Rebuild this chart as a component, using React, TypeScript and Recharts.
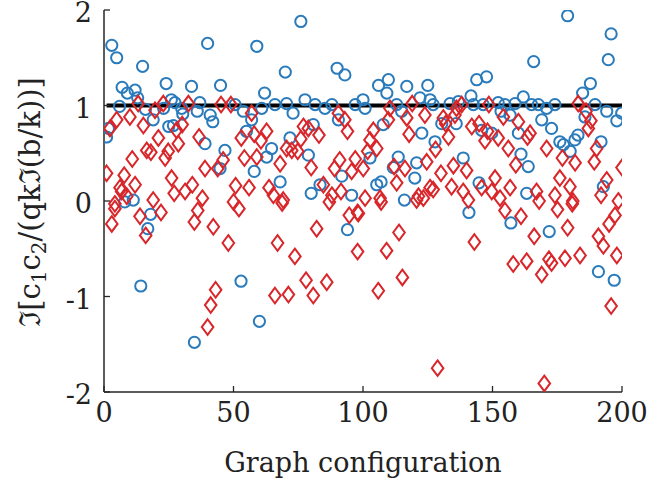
import React from "react";
import { ScatterChart, Scatter, XAxis, YAxis, ReferenceLine } from "recharts";

if (typeof document !== "undefined") {
  document.body.style.margin = "0";
}

const xTicks = [0, 50, 100, 150, 200];
const yTicks = [-2, -1, 0, 1, 2];
const referenceLevel = 1;
const referenceRange = [1, 200];

const blueX = [
  3, 4.9, 14.9, 40, 24, 33.8, 45, 7, 9, 12, 13, 26, 27.4, 37, 6, 16, 23, 30, 36, 19, 41, 42, 25, 26.8, 30.4, 39, 1, 1.7, 46.7, 44.8, 11.3, 8, 18, 16.9, 14.2, 34.9,
  76, 59, 70, 90, 93, 62, 50.6, 53.8, 60.9, 66, 70.5, 73, 77.6, 81.5, 85.3, 88, 97, 57, 90.5, 80.8, 55, 64.7, 71.8, 62.8, 78.9, 58, 68, 91.8, 80, 83.4, 95.6, 94, 52.9, 60,
  106, 109.8, 109.2, 116.9, 125, 143.9, 147.7, 141.7, 100, 100.8, 113, 114.9, 122, 125.9, 127.1, 133.6, 136.8, 142.6, 146.4, 107.8, 130.4, 136, 122.7, 127.8, 145.8, 102.7, 113.6, 120.7, 111.7, 138.7, 120, 105.3, 107, 144.8, 116, 140.9,
  179, 195.8, 194.7, 165.9, 187.8, 184.8, 161.9, 152.2, 154.8, 158.7, 165.1, 167.7, 170.9, 174.1, 189.6, 194.1, 199.9, 198, 153.3, 156.8, 185.7, 169, 172.8, 160, 149.7, 176, 177.4, 180, 181.8, 183, 191.9, 161, 163.8, 192.8, 163.2, 157.1, 171.9, 190.9, 197,
];
const blueY = [
  1.63, 1.5, 1.41, 1.65, 1.23, 1.2, 1.21, 1.19, 1.13, 1.16, 1.08, 1.06, 1.03, 1.03, 0.99, 0.96, 0.97, 0.97, 0.94, 0.85, 0.9, 0.83, 0.78, 0.79, 0.91, 0.6, 0.67, 0.76, 0.53, 0.34, 0.01, -0.01, -0.14, -0.29, -0.89, -1.48,
  1.88, 1.62, 1.35, 1.39, 1.32, 1.13, 1.01, 0.94, 0.97, 1.01, 1.02, 0.92, 1.06, 1.01, 0.97, 1.01, 1.01, 0.85, 0.85, 0.8, 0.73, 0.55, 0.66, 0.46, 0.48, 0.31, 0.2, 0.26, 0.08, 0.17, 0.06, -0.3, -0.84, -1.26,
  1.21, 1.27, 1.13, 1.2, 1.21, 1.27, 1.3, 1.1, 1.06, 0.97, 1.01, 0.94, 1.08, 1.06, 1.01, 1.02, 1.04, 1.01, 1.01, 0.8, 0.81, 0.81, 0.71, 0.62, 0.74, 0.45, 0.46, 0.4, 0.35, 0.45, 0.24, 0.17, 0.2, 0.19, 0.01, -0.12,
  1.94, 1.75, 1.48, 1.46, 1.23, 1.13, 1.09, 1.03, 1.01, 1.02, 1.01, 1.01, 0.97, 1.01, 1.01, 0.94, 0.92, 0.84, 0.94, 0.9, 0.88, 0.85, 0.76, 0.71, 0.71, 0.62, 0.59, 0.52, 0.64, 0.69, 0.62, 0.49, 0.36, 0.15, 0.08, -0.23, -0.32, -0.74, -0.83,
];

const redX = [
  13.2, 19.7, 22.9, 32.6, 45.2, 4.9, 2.3, 10, 15.2, 28, 30.2, 21, 36.7, 28.7, 16.5, 18.1, 24.8, 23.6, 10.9, 1, 7.8, 12, 26.1, 39, 43.9, 46, 6.2, 6.8, 8.8, 27.1, 31.3, 34.1, 38, 19, 4.2, 4.2, 3, 13.9, 16.1, 22, 36.2, 34.9, 42.2, 48, 43.1, 41.2, 40,
  49, 57, 90.5, 93, 94, 53, 58, 62.8, 60.6, 77, 78.9, 83, 76, 70.5, 72.5, 74.8, 59, 54.2, 68, 80, 91, 89, 97, 95.6, 50.8, 56, 63.7, 65.4, 69.2, 84.7, 88, 91.5, 50, 52.1, 68.8, 87, 94.7, 97.9, 82.1, 67, 73.7, 97.9, 78, 86, 66, 71.2, 80.8,
  110.4, 119, 123.9, 116.9, 109.8, 135.5, 138.1, 131, 131.9, 136.1, 104, 102.7, 101.8, 105.3, 117.8, 133, 128, 142, 144.8, 147.1, 124.6, 130.1, 134.9, 140, 112, 116.2, 113, 100.1, 125.9, 127.1, 134.2, 138.7, 145.8, 100.8, 106.6, 121.4, 123.3, 140.7, 107, 98.2, 120.7, 113.9, 109.1, 143, 115.2, 105.9, 128.8,
  148.6, 154.2, 160, 148.1, 152.2, 156.1, 164.5, 163.5, 170.9, 177, 181.9, 159, 183.1, 186.1, 188, 187, 190.2, 189.3, 200, 151, 156.8, 149.7, 152.9, 176, 179.9, 167, 174.1, 181, 168, 194.1, 191.9, 198.6, 154.8, 161, 175.1, 180.8, 197.3, 195, 190.9, 192.8, 198, 195.8, 166.1, 179, 158, 163.2, 171.8, 172.8, 169, 178, 183.8, 170,
];
const redY = [
  1.02, 0.95, 1.02, 1.02, 1.01, 0.85, 0.76, 0.88, 0.79, 0.74, 0.8, 0.66, 0.67, 0.6, 0.53, 0.51, 0.52, 0.45, 0.44, 0.29, 0.27, 0.17, 0.24, 0.34, 0.34, 0.43, 0.14, 0.1, 0.05, 0.08, 0.1, 0.17, 0.03, 0.01, -0.03, -0.08, -0.24, -0.16, -0.36, -0.12, -0.1, -0.22, -0.27, -0.44, -0.93, -1.09, -1.32,
  1.01, 0.92, 0.92, 0.85, 0.73, 0.66, 0.7, 0.73, 0.63, 0.78, 0.76, 0.69, 0.65, 0.55, 0.53, 0.52, 0.46, 0.45, 0.39, 0.35, 0.43, 0.34, 0.44, 0.31, 0.16, 0.14, 0.14, 0.06, 0.01, 0.17, 0.06, 0.1, -0.01, -0.08, -0.02, -0.01, -0.15, -0.12, -0.29, -0.44, -0.58, -0.53, -0.83, -0.85, -0.99, -0.98, -0.99,
  0.97, 1.02, 0.9, 0.87, 0.85, 0.9, 1.01, 0.87, 0.81, 0.97, 0.74, 0.64, 0.52, 0.55, 0.7, 0.67, 0.54, 0.78, 0.81, 0.63, 0.41, 0.29, 0.37, 0.32, 0.36, 0.34, 0.19, 0.34, 0.14, 0.12, 0.15, 0.1, 0.14, 0.03, 0.03, 0.05, 0.03, 0.01, -0.01, -0.13, 0.01, -0.33, -0.52, -0.43, -0.8, -0.94, -1.75,
  1.01, 0.88, 0.83, 0.73, 0.66, 0.55, 0.71, 0.67, 0.55, 0.45, 0.4, 0.38, 1.02, 0.94, 0.84, 0.76, 0.55, 0.41, 0.35, 0.24, 0.14, 0.1, 0.03, 0.24, 0.15, 0.1, 0.06, 0.0, 0.0, 0.22, 0.06, 0.0, -0.1, -0.16, -0.09, -0.03, -0.15, -0.24, -0.37, -0.47, -0.57, -1.1, -0.37, -0.28, -0.66, -0.63, -0.61, -0.65, -0.77, -0.6, -0.57, -1.91,
];

const blueData = blueX.map((x, i) => ({ x, y: blueY[i] }));
const redData = redX.map((x, i) => ({ x, y: redY[i] }));

const BLUE = "#2a7bbb";
const RED = "#d9262a";
const AXIS = "#262626";
const FONT = "DejaVu Serif";
const FS = 27;
const TICK_LEN = 6;

const CircleShape = (props: any) => {
  const { cx, cy } = props;
  if (cx == null || cy == null) return null;
  return <circle cx={cx} cy={cy} r={5.6} fill="none" stroke={BLUE} strokeWidth={2} />;
};

const DiamondShape = (props: any) => {
  const { cx, cy } = props;
  if (cx == null || cy == null) return null;
  const w = 5.8;
  const h = 7.8;
  return (
    <path
      d={`M${cx},${cy - h} L${cx + w},${cy} L${cx},${cy + h} L${cx - w},${cy} Z`}
      fill="none"
      stroke={RED}
      strokeWidth={2}
      strokeLinejoin="miter"
    />
  );
};

const BottomTick = (props: any) => {
  const { x, y, payload } = props;
  return (
    <g>
      <line x1={x} x2={x} y1={y} y2={y - TICK_LEN} stroke={AXIS} strokeWidth={1.3} />
      <text x={x} y={y + 30} textAnchor="middle" fontFamily={FONT} fontSize={FS} fill="#222">
        {payload.value}
      </text>
    </g>
  );
};

const TopTick = (props: any) => {
  const { x, y } = props;
  return <line x1={x} x2={x} y1={y} y2={y + TICK_LEN} stroke={AXIS} strokeWidth={1.3} />;
};

const LeftTick = (props: any) => {
  const { x, y, payload } = props;
  return (
    <g>
      <line x1={x} x2={x + TICK_LEN} y1={y} y2={y} stroke={AXIS} strokeWidth={1.3} />
      <text x={x - 12} y={y + 12} textAnchor="end" fontFamily={FONT} fontSize={FS} fill="#222">
        {payload.value}
      </text>
    </g>
  );
};

const RightTick = (props: any) => {
  const { x, y } = props;
  return <line x1={x} x2={x - TICK_LEN} y1={y} y2={y} stroke={AXIS} strokeWidth={1.3} />;
};

const YLabel = (props: any) => {
  const vb = props.viewBox || { x: 0, y: 0, width: 0, height: 0 };
  const cx = vb.x + 30;
  const cy = vb.y + vb.height / 2 + 1;
  return (
    <text
      x={cx}
      y={cy}
      transform={`rotate(-90, ${cx}, ${cy})`}
      textAnchor="middle"
      fontFamily={FONT}
      fontSize={29}
      fill="#222"
      dy={10}
    >
      <tspan>ℑ[c</tspan>
      <tspan fontSize={20} dy={6}>1</tspan>
      <tspan dy={-6}>c</tspan>
      <tspan fontSize={20} dy={6}>2</tspan>
      <tspan dy={-6}>/(qkℑ(b/k))]</tspan>
    </text>
  );
};

const XLabel = (props: any) => {
  const vb = props.viewBox || { x: 0, y: 0, width: 0, height: 0 };
  return (
    <text x={vb.x + vb.width / 2} y={vb.y + 80} textAnchor="middle" fontFamily={FONT} fontSize={FS} fill="#222">
      Graph configuration
    </text>
  );
};

export default function App() {
  return (
    <div style={{ width: 649, height: 489, background: "#fff" }}>
      <ScatterChart width={649} height={489} margin={{ top: 10, right: 27, bottom: 0, left: 0 }}>
        <XAxis
          xAxisId={0}
          type="number"
          dataKey="x"
          domain={[0, 200]}
          ticks={xTicks}
          allowDataOverflow
          height={97}
          tickSize={0}
          tickMargin={0}
          tickLine={false}
          tick={<BottomTick />}
          axisLine={{ stroke: AXIS, strokeWidth: 1.5 }}
          interval={0}
          label={<XLabel />}
        />
        <XAxis
          xAxisId="top"
          orientation="top"
          type="number"
          dataKey="x"
          domain={[0, 200]}
          ticks={xTicks}
          allowDataOverflow
          height={0}
          tickSize={0}
          tickMargin={0}
          tickLine={false}
          tick={<TopTick />}
          axisLine={{ stroke: AXIS, strokeWidth: 1.5 }}
          interval={0}
        />
        <YAxis
          yAxisId={0}
          type="number"
          dataKey="y"
          domain={[-2, 2]}
          ticks={yTicks}
          allowDataOverflow
          width={104}
          tickSize={0}
          tickMargin={0}
          tickLine={false}
          tick={<LeftTick />}
          axisLine={{ stroke: AXIS, strokeWidth: 1.5 }}
          interval={0}
          label={<YLabel />}
        />
        <YAxis
          yAxisId="right"
          orientation="right"
          type="number"
          dataKey="y"
          domain={[-2, 2]}
          ticks={yTicks}
          allowDataOverflow
          width={0}
          tickSize={0}
          tickMargin={0}
          tickLine={false}
          tick={<RightTick />}
          axisLine={{ stroke: AXIS, strokeWidth: 1.5 }}
          interval={0}
        />
        <Scatter data={blueData} xAxisId={0} yAxisId={0} shape={<CircleShape />} isAnimationActive={false} />
        <Scatter data={redData} xAxisId={0} yAxisId={0} shape={<DiamondShape />} isAnimationActive={false} />
        <ReferenceLine
          xAxisId={0}
          yAxisId={0}
          segment={[
            { x: referenceRange[0], y: referenceLevel },
            { x: referenceRange[1], y: referenceLevel },
          ]}
          stroke="#000"
          strokeWidth={4}
        />
      </ScatterChart>
    </div>
  );
}
